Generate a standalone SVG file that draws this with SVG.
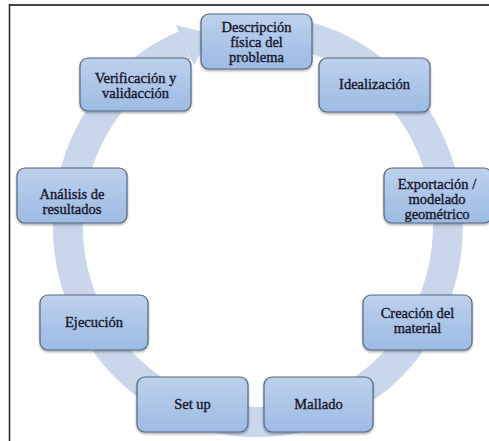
<svg xmlns="http://www.w3.org/2000/svg" width="489" height="441" viewBox="0 0 489 441">
<defs>
<linearGradient id="bg" x1="0" y1="0" x2="0" y2="1">
<stop offset="0" stop-color="#bdd1ec"/>
<stop offset="1" stop-color="#9dbbe4"/>
</linearGradient>
<filter id="sh" x="-10%" y="-10%" width="130%" height="140%">
<feDropShadow dx="0" dy="1.5" stdDeviation="1.2" flood-color="#000" flood-opacity="0.35"/>
</filter>
</defs>
<style>
.box{fill:url(#bg);stroke:#56667e;stroke-width:1.2;filter:url(#sh)}
.t{font-family:"Liberation Serif","Times New Roman",serif;font-size:14.5px;fill:#15152a;stroke:#15152a;stroke-width:0.35;text-anchor:middle}
.ring{fill:none;stroke:#cad7eb;stroke-width:30}
</style>
<rect x="0" y="0" width="489" height="441" fill="#fff"/>
<g id="frame">
<line x1="9" y1="5" x2="489" y2="5" stroke="#444" stroke-width="2"/>
<line x1="9.5" y1="4" x2="9.5" y2="441" stroke="#222" stroke-width="1.5"/>
</g>
<g id="connectors">
<path class="ring" d="M 291 33 A 190 196 0 1 1 185 45"/>
<polygon points="176,25 211,34 194,65" fill="#cad7eb"/>
</g>
<g id="n1"><rect class="box" x="201" y="14" width="111" height="55" rx="8"/>
<text class="t" x="256.5" y="32">Descripción</text><text class="t" x="256.5" y="47">física del</text><text class="t" x="256.5" y="62">problema</text></g>
<g id="n2"><rect class="box" x="319" y="58" width="111" height="54" rx="8"/>
<text class="t" x="374.5" y="89">Idealización</text></g>
<g id="n3"><rect class="box" x="384" y="168" width="108" height="55" rx="8"/>
<text class="t" x="437" y="189">Exportación /</text><text class="t" x="437" y="204">modelado</text><text class="t" x="437" y="219">geométrico</text></g>
<g id="n4"><rect class="box" x="363" y="295" width="109" height="55" rx="8"/>
<text class="t" x="417.5" y="318">Creación del</text><text class="t" x="417.5" y="333">material</text></g>
<g id="n5"><rect class="box" x="264" y="377" width="109" height="55" rx="8"/>
<text class="t" x="318.5" y="409">Mallado</text></g>
<g id="n6"><rect class="box" x="137" y="377" width="111" height="55" rx="8"/>
<text class="t" x="192.5" y="409">Set up</text></g>
<g id="n7"><rect class="box" x="40" y="295" width="108" height="55" rx="8"/>
<text class="t" x="94" y="327">Ejecución</text></g>
<g id="n8"><rect class="box" x="17" y="168" width="110" height="55" rx="8"/>
<text class="t" x="72" y="199">Análisis de</text><text class="t" x="72" y="214">resultados</text></g>
<g id="n9"><rect class="box" x="80" y="58" width="111" height="53" rx="8"/>
<text class="t" x="135.5" y="83">Verificación y</text><text class="t" x="135.5" y="98">validacción</text></g>
</svg>
